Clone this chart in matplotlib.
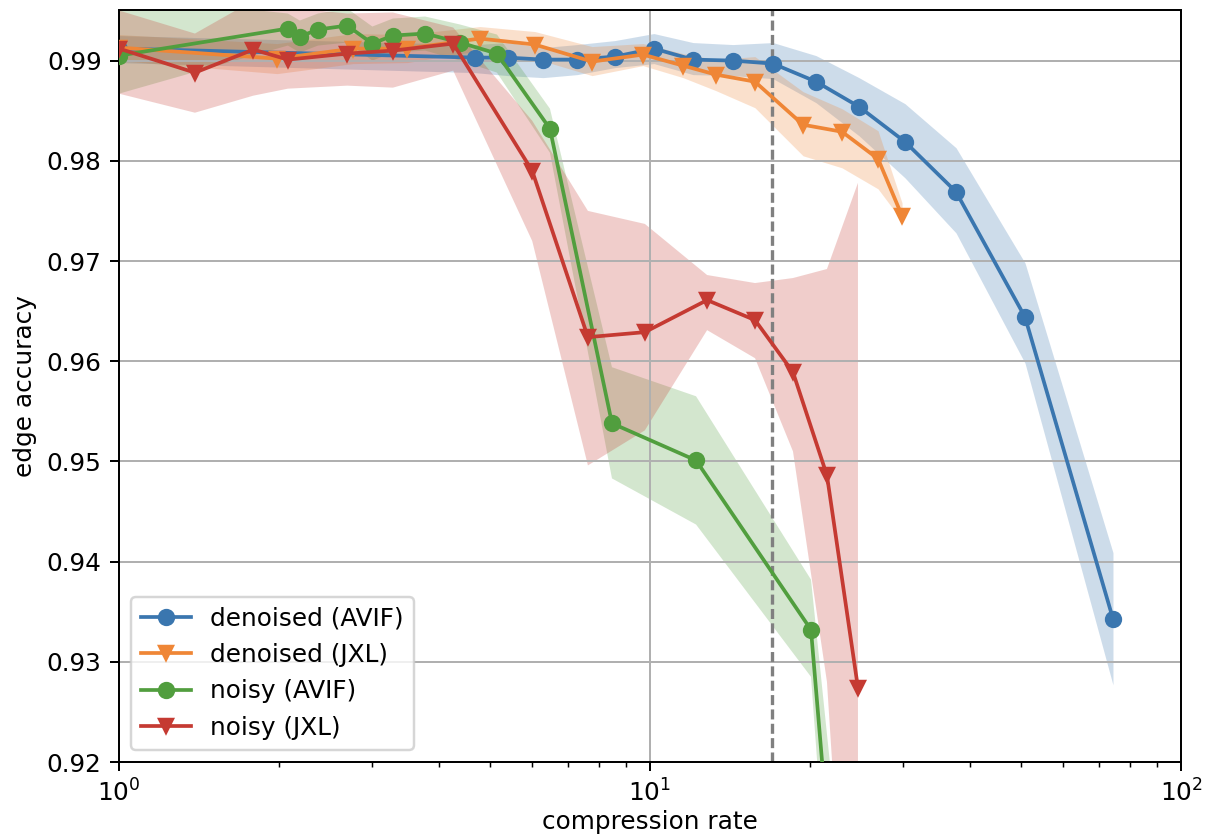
import matplotlib
matplotlib.use("Agg")
import matplotlib.pyplot as plt
import numpy as np

# ---- data ----
den_avif_x = [1.0, 4.68, 5.40, 6.29, 7.29, 8.59, 10.17, 12.05, 14.33, 17.04, 20.54, 24.75, 30.21, 37.70, 50.85, 74.45]
den_avif_y = [0.9912, 0.9903, 0.9903, 0.9901, 0.9901, 0.9904, 0.9912, 0.9901, 0.9900, 0.9897, 0.9879, 0.9854, 0.9819, 0.9769, 0.9644, 0.9343]
den_avif_lo = [0.9898, 0.9888, 0.9885, 0.9883, 0.9886, 0.9893, 0.9897, 0.9886, 0.9885, 0.9882, 0.9858, 0.9825, 0.9783, 0.9728, 0.9598, 0.9277]
den_avif_hi = [0.9925, 0.9916, 0.9918, 0.9913, 0.9916, 0.9920, 0.9927, 0.9918, 0.9916, 0.9918, 0.9905, 0.9883, 0.9857, 0.9813, 0.9698, 0.9409]

den_jxl_x = [1.0, 1.985, 2.76, 3.49, 4.78, 6.07, 7.78, 9.70, 11.54, 13.31, 15.76, 19.42, 22.99, 26.88, 29.83]
den_jxl_y = [0.9913, 0.9902, 0.9912, 0.9912, 0.9922, 0.9916, 0.9899, 0.9906, 0.9895, 0.9886, 0.9879, 0.9836, 0.9829, 0.9802, 0.9745]
den_jxl_lo = [0.9900, 0.9887, 0.9897, 0.9898, 0.9910, 0.9902, 0.9885, 0.9895, 0.9883, 0.9870, 0.9853, 0.9805, 0.9793, 0.9772, 0.9740]
den_jxl_hi = [0.9926, 0.9917, 0.9927, 0.9926, 0.9934, 0.9929, 0.9914, 0.9917, 0.9907, 0.9901, 0.9904, 0.9869, 0.9852, 0.9830, 0.9758]

noisy_avif_x = [1.0, 2.08, 2.19, 2.37, 2.69, 3.00, 3.28, 3.77, 4.39, 5.15, 6.48, 8.48, 12.21, 20.10, 21.86]
noisy_avif_y = [0.9905, 0.9932, 0.9924, 0.9931, 0.9935, 0.9917, 0.9925, 0.9927, 0.9918, 0.9907, 0.9832, 0.9538, 0.9501, 0.9332, 0.9102]
noisy_avif_lo = [0.9867, 0.9915, 0.9908, 0.9915, 0.9918, 0.9900, 0.9908, 0.9910, 0.9900, 0.9888, 0.9808, 0.9483, 0.9437, 0.9285, 0.9020]
noisy_avif_hi = [0.9965, 0.9947, 0.9940, 0.9947, 0.9952, 0.9934, 0.9942, 0.9944, 0.9936, 0.9926, 0.9852, 0.9594, 0.9565, 0.9382, 0.9195]

noisy_jxl_x = [1.0, 1.39, 1.79, 2.08, 2.69, 3.28, 4.26, 6.00, 7.64, 9.78, 12.81, 15.77, 18.59, 21.54, 24.64]
noisy_jxl_y = [0.9912, 0.9888, 0.9911, 0.9901, 0.9907, 0.9910, 0.9917, 0.9790, 0.9624, 0.9629, 0.9661, 0.9641, 0.9589, 0.9486, 0.9274]
noisy_jxl_lo = [0.9867, 0.9848, 0.9865, 0.9872, 0.9875, 0.9873, 0.9890, 0.9720, 0.9496, 0.9531, 0.9631, 0.9603, 0.9510, 0.9280, 0.8800]
noisy_jxl_hi = [0.9950, 0.9927, 0.9960, 0.9953, 0.9947, 0.9948, 0.9933, 0.9840, 0.9750, 0.9737, 0.9686, 0.9678, 0.9683, 0.9692, 0.9778]

labels = ["denoised (AVIF)", "denoised (JXL)", "noisy (AVIF)", "noisy (JXL)"]
colors = ["#3a76af", "#ef8636", "#519e3e", "#c53a32"]
markers = ["o", "v", "o", "v"]
yticks = [0.92, 0.93, 0.94, 0.95, 0.96, 0.97, 0.98, 0.99]
threshold = 17.0

series = [
    (den_avif_x, den_avif_y, den_avif_lo, den_avif_hi),
    (den_jxl_x, den_jxl_y, den_jxl_lo, den_jxl_hi),
    (noisy_avif_x, noisy_avif_y, noisy_avif_lo, noisy_avif_hi),
    (noisy_jxl_x, noisy_jxl_y, noisy_jxl_lo, noisy_jxl_hi),
]

DPI = 178
fig = plt.figure(figsize=(1205 / DPI, 836 / DPI), dpi=DPI)
ax = fig.add_axes([119 / 1205, (836 - 762) / 836, (1181 - 119) / 1205, (762 - 10.5) / 836])

for (x, y, lo, hi), lab, c, m in zip(series, labels, colors, markers):
    ax.fill_between(x, lo, hi, color=c, alpha=0.25, linewidth=0)
for (x, y, lo, hi), lab, c, m in zip(series, labels, colors, markers):
    ax.plot(x, y, marker=m, color=c, label=lab, lw=1.5, ms=6, zorder=3)

ax.axvline(threshold, color="gray", ls=(0, (3, 1.3)), lw=1.35, zorder=1.8)

ax.set_xscale("log")
ax.set_xlim(1, 100)
ax.set_ylim(0.92, 0.995)
ax.set_yticks(yticks)
ax.set_yticklabels([f"{v:.2f}" for v in yticks])
ax.grid(True, which="major", color="#b0b0b0", lw=0.8)
ax.set_xlabel("compression rate", labelpad=1.5)
ax.set_ylabel("edge accuracy")
ax.legend(loc="lower left")

fig.savefig("out.png", dpi=DPI)
